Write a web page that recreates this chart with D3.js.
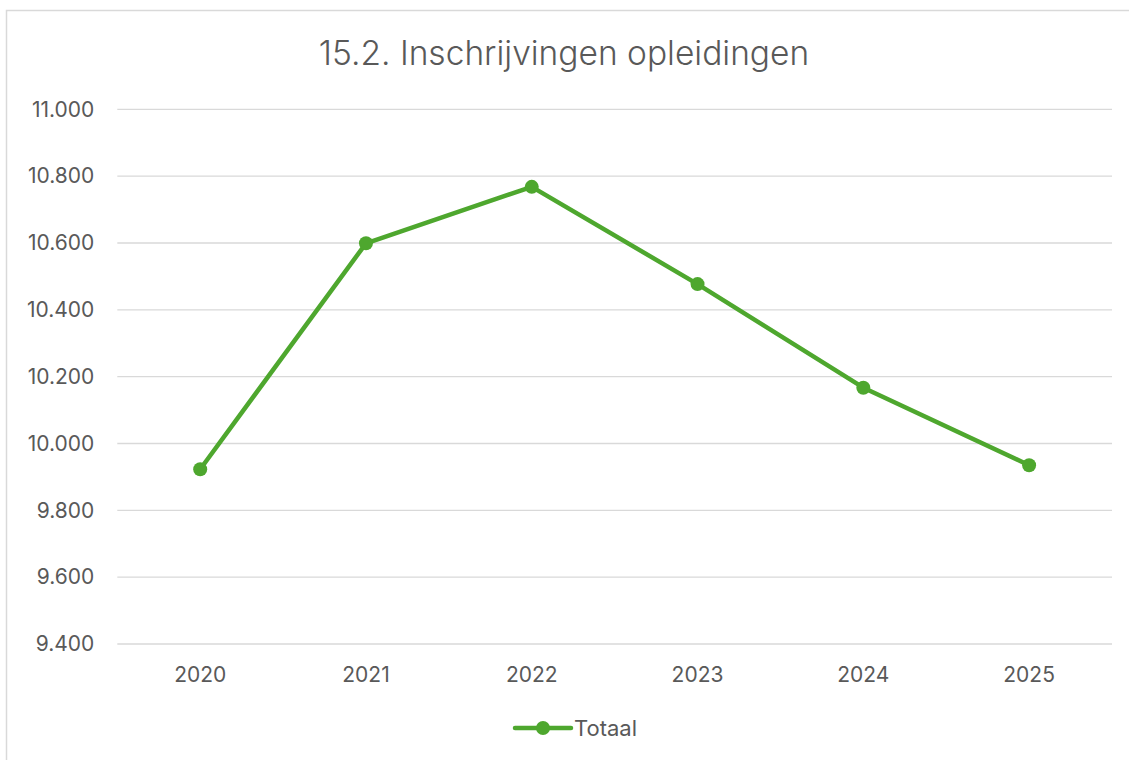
<!DOCTYPE html>
<html>
<head>
<meta charset="utf-8">
<script src="https://cdn.jsdelivr.net/npm/d3@7"></script>
<style>
  body { margin: 0; background: #fff; }
  svg { display: block; font-family: Inter, "Open Sans", sans-serif; }
</style>
</head>
<body>
<figure id="chart" style="margin:0"></figure>
<script>
const years = ["2020", "2021", "2022", "2023", "2024", "2025"];
const totaal = [9923, 10599, 10768, 10477, 10167, 9935];
const yTicks = [9400, 9600, 9800, 10000, 10200, 10400, 10600, 10800, 11000];
const title = "15.2. Inschrijvingen opleidingen";
const seriesName = "Totaal";

const width = 1129, height = 760;
const margin = {top: 109.3, right: 17, bottom: 116, left: 117.3};
const green = "#4ea72e";
const textColor = "#595959";
const font = "Inter, \"Open Sans\", sans-serif";

const svg = d3.select("figure#chart")
  .append("svg")
  .attr("width", width)
  .attr("height", height);

// chart border
svg.append("rect")
  .attr("x", 6.5).attr("y", 10.5)
  .attr("width", width + 10).attr("height", height + 10)
  .attr("fill", "none")
  .attr("stroke", "#d9d9d9")
  .attr("stroke-width", 1.5);

// title
svg.append("text")
  .attr("x", 564).attr("y", 65)
  .attr("text-anchor", "middle")
  .style("font-size", "33.5px")
  .style("font-weight", 300)
  .style("fill", textColor)
  .text(title);

const x = d3.scaleBand()
  .domain(years)
  .range([margin.left, width - margin.right]);

const y = d3.scaleLinear()
  .domain([9400, 11000])
  .range([height - margin.bottom, margin.top]);

// gridlines
svg.append("g")
  .selectAll("line")
  .data(yTicks)
  .enter()
  .append("line")
  .attr("x1", margin.left)
  .attr("x2", width - margin.right)
  .attr("y1", d => y(d))
  .attr("y2", d => y(d))
  .attr("stroke", "#d9d9d9")
  .attr("stroke-width", 1.3);

// Y axis labels
const fmt = d => d3.format(",")(d).replace(/,/g, ".");
const yAxis = svg.append("g")
  .attr("transform", "translate(" + (margin.left - 23) + ",0)")
  .call(d3.axisLeft(y).tickValues(yTicks).tickFormat(fmt).tickSize(0).tickPadding(0));
yAxis.select(".domain").remove();
yAxis.selectAll("text")
  .style("font-size", "21px")
  .style("font-family", font)
  .style("fill", textColor);

// X axis labels
const xAxis = svg.append("g")
  .attr("transform", "translate(0," + (height - margin.bottom) + ")")
  .call(d3.axisBottom(x).tickSize(0).tickPadding(23));
xAxis.select(".domain").remove();
xAxis.selectAll("text")
  .style("font-size", "21px")
  .style("font-family", font)
  .style("fill", textColor);

// line
const cx = (d, i) => x(years[i]) + x.bandwidth() / 2;
svg.append("path")
  .datum(totaal)
  .attr("fill", "none")
  .attr("stroke", green)
  .attr("stroke-width", 4.5)
  .attr("stroke-linejoin", "round")
  .attr("d", d3.line().x(cx).y(d => y(d)));

svg.append("g")
  .selectAll("circle")
  .data(totaal)
  .enter()
  .append("circle")
  .attr("cx", cx)
  .attr("cy", d => y(d))
  .attr("r", 7)
  .attr("fill", green);

// legend
const legend = svg.append("g").attr("transform", "translate(515,728)");
legend.append("line")
  .attr("x1", 0).attr("x2", 56)
  .attr("stroke", green)
  .attr("stroke-width", 4.5)
  .attr("stroke-linecap", "round");
legend.append("circle")
  .attr("cx", 28).attr("r", 7)
  .attr("fill", green);
legend.append("text")
  .attr("x", 59).attr("y", 7.5)
  .style("font-size", "22px")
  .style("fill", textColor)
  .text(seriesName);
</script>
</body>
</html>
